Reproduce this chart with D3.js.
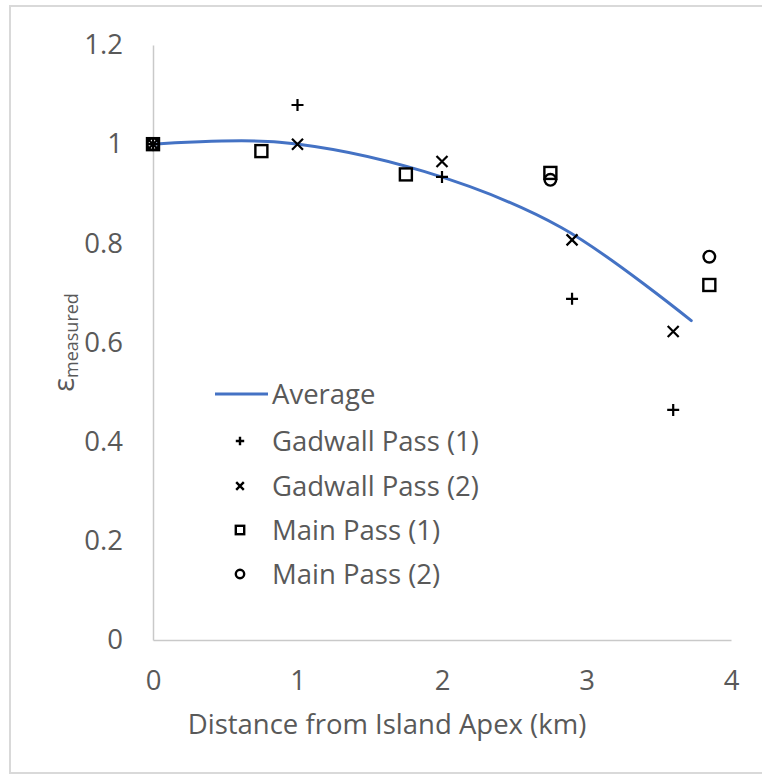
<!DOCTYPE html>
<html><head><meta charset="utf-8">
<script src="https://cdn.jsdelivr.net/npm/d3@7"></script>
<style>
html,body{margin:0;padding:0;background:#fff;}
svg{display:block;font-family:"Open Sans","Noto Sans",sans-serif;}
</style></head>
<body>
<svg id="chart" width="762" height="775"></svg>
<script>
// ---- data ----
const xTicks = [0, 1, 2, 3, 4];
const yTicks = [0, 0.2, 0.4, 0.6, 0.8, 1, 1.2];
const yTickLabels = ["0", "0.2", "0.4", "0.6", "0.8", "1", "1.2"];

const gadwall1X = [0, 1, 2, 2.9, 3.6];
const gadwall1Y = [1.0, 1.079, 0.934, 0.688, 0.464];
const gadwall2X = [0, 1, 2, 2.9, 3.6];
const gadwall2Y = [1.0, 1.0, 0.965, 0.807, 0.622];
const main1X = [0, 0.75, 1.75, 2.75, 3.85];
const main1Y = [1.0, 0.986, 0.939, 0.942, 0.716];
const main2X = [0, 2.75, 3.85];
const main2Y = [1.0, 0.928, 0.773];
const averageX = [0, 0.875, 1.875, 2.825, 3.725];
const averageY = [1.0, 1.004, 0.945, 0.832, 0.644];

const seriesNames = ["Average", "Gadwall Pass (1)", "Gadwall Pass (2)", "Main Pass (1)", "Main Pass (2)"];
const xTitle = "Distance from Island Apex (km)";

// ---- layout ----
const svg = d3.select("#chart");
const x = d3.scaleLinear().domain([0, 4]).range([153, 731]);
const y = d3.scaleLinear().domain([0, 1.2]).range([640, 45]);
const textColor = "#595959";
const axisColor = "#c9c9c9";
const fontSize = 27.5;

// outer border
svg.append("rect").attr("x", 10).attr("y", 6).attr("width", 760).attr("height", 767)
  .attr("fill", "none").attr("stroke", "#d9d9d9").attr("stroke-width", 2);

// axes
const xAxis = svg.append("g").attr("transform", `translate(0,${y(0)})`)
  .call(d3.axisBottom(x).tickValues(xTicks).tickFormat(d3.format("d")).tickSize(0).tickPadding(30));
const yAxis = svg.append("g").attr("transform", `translate(${x(0)},0)`)
  .call(d3.axisLeft(y).tickValues(yTicks).tickFormat((d, i) => yTickLabels[i]).tickSize(0).tickPadding(30));
[xAxis, yAxis].forEach(g => {
  g.select(".domain").attr("stroke", axisColor).attr("stroke-width", 1.5);
  g.selectAll("text").attr("fill", textColor).style("font-size", fontSize + "px")
    .style("font-family", '"Open Sans","Noto Sans",sans-serif');
});

// axis titles
svg.append("text").attr("x", 387).attr("y", 734).attr("text-anchor", "middle")
  .attr("fill", textColor).style("font-size", fontSize + "px").text(xTitle);

const yt = svg.append("text").attr("transform", `translate(74,${(y(0) + y(1.2)) / 2}) rotate(-90)`)
  .attr("text-anchor", "middle").attr("fill", textColor);
yt.append("tspan").style("font-size", "29px").text("ε");
yt.append("tspan").style("font-size", "18px").attr("dy", 4).text("measured");

// average line
const avgData = averageX.map((v, i) => [v, averageY[i]]);
svg.append("path").datum(avgData)
  .attr("fill", "none").attr("stroke", "#4472C4").attr("stroke-width", 3)
  .attr("stroke-linecap", "round")
  .attr("d", d3.line().x(d => x(d[0])).y(d => y(d[1])).curve(d3.curveCatmullRom.alpha(0.5)));

// marker drawers
function drawPlus(g, cx, cy, h, w) {
  g.append("path").attr("d", `M${cx - h},${cy}H${cx + h}M${cx},${cy - h}V${cy + h}`)
    .attr("stroke", "#000").attr("stroke-width", w).attr("fill", "none");
}
function drawX(g, cx, cy, h, w) {
  g.append("path").attr("d", `M${cx - h},${cy - h}L${cx + h},${cy + h}M${cx - h},${cy + h}L${cx + h},${cy - h}`)
    .attr("stroke", "#000").attr("stroke-width", w).attr("fill", "none");
}
function drawSquare(g, cx, cy, h, w) {
  g.append("rect").attr("x", cx - h).attr("y", cy - h).attr("width", 2 * h).attr("height", 2 * h)
    .attr("stroke", "#000").attr("stroke-width", w).attr("fill", "none");
}
function drawCircle(g, cx, cy, r, w) {
  g.append("circle").attr("cx", cx).attr("cy", cy).attr("r", r)
    .attr("stroke", "#000").attr("stroke-width", w).attr("fill", "none");
}

const pts = svg.append("g");
gadwall1X.forEach((v, i) => drawPlus(pts, x(v), y(gadwall1Y[i]), 6, 2.2));
gadwall2X.forEach((v, i) => drawX(pts, x(v), y(gadwall2Y[i]), 5.5, 2.2));
main1X.forEach((v, i) => drawSquare(pts, x(v), y(main1Y[i]), 6, 2.4));
main2X.forEach((v, i) => drawCircle(pts, x(v), y(main2Y[i]), 5.8, 2.4));

// legend
const leg = svg.append("g");
const legY = [394, 441, 486, 530, 574];
leg.append("line").attr("x1", 215).attr("x2", 268).attr("y1", legY[0]).attr("y2", legY[0])
  .attr("stroke", "#4472C4").attr("stroke-width", 3);
drawPlus(leg, 240, legY[1], 4.2, 2.4);
drawX(leg, 240, legY[2], 3.8, 2.4);
drawSquare(leg, 240, legY[3], 4.2, 2.4);
drawCircle(leg, 240, legY[4], 4.2, 2.4);
seriesNames.forEach((n, i) => {
  leg.append("text").attr("x", 272).attr("y", legY[i]).attr("dy", "0.35em")
    .attr("fill", textColor).style("font-size", fontSize + "px").text(n);
});
</script>
</body></html>
